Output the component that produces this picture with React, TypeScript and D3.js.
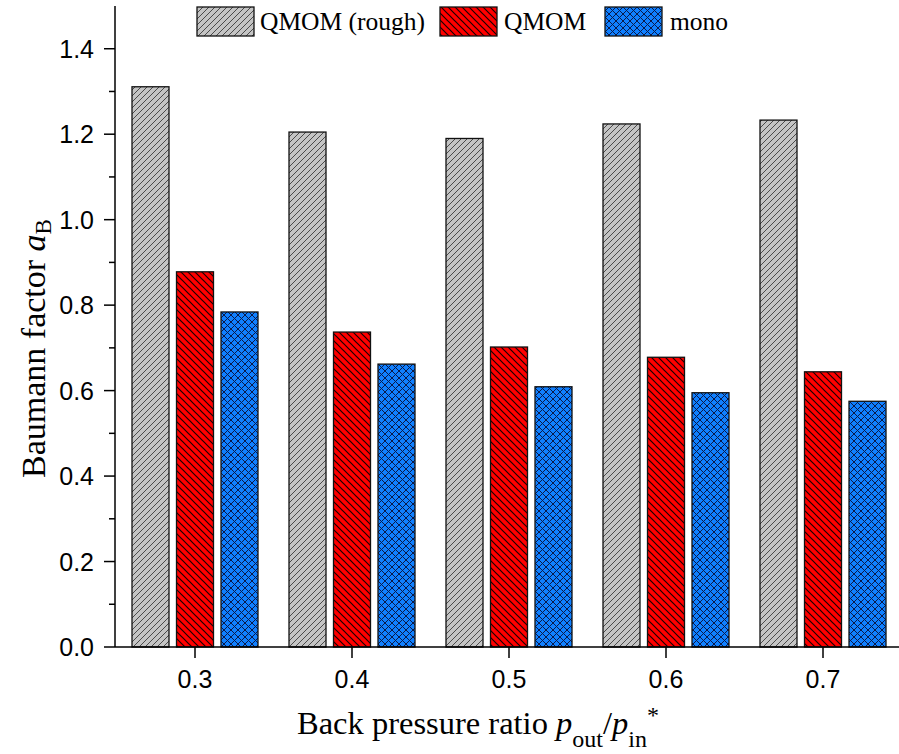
import React from "react";
import * as d3 from "d3";

const categories = ["0.3", "0.4", "0.5", "0.6", "0.7"];
const seriesNames = ["QMOM (rough)", "QMOM", "mono"];
const qmomRough = [1.311, 1.205, 1.19, 1.224, 1.233];
const qmom = [0.878, 0.737, 0.702, 0.678, 0.644];
const mono = [0.784, 0.662, 0.609, 0.595, 0.575];
const yMajorTicks = [0, 0.2, 0.4, 0.6, 0.8, 1.0, 1.2, 1.4];
const yMinorTicks = [0.1, 0.3, 0.5, 0.7, 0.9, 1.1, 1.3];

const W = 899;
const H = 754;
const plot = { left: 115, top: 6, bottom: 647 };

const x = d3.scaleLinear().domain([0.25, 0.75]).range([116.5, 901.5]);
const y = d3.scaleLinear().domain([0, 1.5]).range([plot.bottom, plot.top]);

const barW = 37;
const barStep = 44.5;
const series = [
  { name: seriesNames[0], values: qmomRough, fill: "url(#hatchGray)" },
  { name: seriesNames[1], values: qmom, fill: "url(#hatchRed)" },
  { name: seriesNames[2], values: mono, fill: "url(#hatchBlue)" },
];

// legend swatch / label x positions
const legendItems = [
  { sx: 197, tx: 260 },
  { sx: 440, tx: 504 },
  { sx: 605, tx: 670 },
];

const sansFont = "'Liberation Sans', Arial, sans-serif";
const serifFont = "'Liberation Serif', 'Times New Roman', serif";

export default function App() {
  return (
    <svg width={W} height={H} style={{ position: "absolute", left: 0, top: 0 }}>
      <defs>
        <pattern id="hatchGray" patternUnits="userSpaceOnUse" width="6" height="6">
          <rect width="6" height="6" fill="#c4c4c4" />
          <path d="M-1,1 L1,-1 M0,6 L6,0 M5,7 L7,5" stroke="#4a4a4a" strokeWidth="1" />
        </pattern>
        <pattern id="hatchRed" patternUnits="userSpaceOnUse" width="7" height="7">
          <rect width="7" height="7" fill="#ff0000" />
          <path d="M-1,6 L1,8 M0,0 L7,7 M6,-1 L8,1" stroke="#1a0000" strokeWidth="1.2" />
        </pattern>
        <pattern id="hatchBlue" patternUnits="userSpaceOnUse" width="7" height="7">
          <rect width="7" height="7" fill="#1080ff" />
          <path d="M-1,6 L1,8 M0,0 L7,7 M6,-1 L8,1 M-1,1 L1,-1 M0,7 L7,0 M6,8 L8,6" stroke="#0a1a4a" strokeWidth="1" />
        </pattern>
      </defs>
      <rect width={W} height={H} fill="#ffffff" />

      {/* bars */}
      {categories.map((c, i) => {
        const cx = x(+c);
        return series.map((s, j) => {
          const bx = cx + (j - 1) * barStep - barW / 2;
          const top = y(s.values[i]);
          return (
            <rect
              key={c + s.name}
              x={bx}
              y={top}
              width={barW}
              height={plot.bottom - top}
              fill={s.fill}
              stroke="#111"
              strokeWidth={1.3}
            />
          );
        });
      })}

      {/* y axis */}
      <line x1={plot.left} x2={plot.left} y1={plot.top} y2={plot.bottom} stroke="#000" strokeWidth={1.5} />
      {yMajorTicks.map((t) => (
        <g key={"ym" + t}>
          <line x1={plot.left - 11} x2={plot.left} y1={y(t)} y2={y(t)} stroke="#000" strokeWidth={1.5} />
          <text x={plot.left - 21} y={y(t) + 9} textAnchor="end" fontFamily={sansFont} fontSize={25}>
            {d3.format(".1f")(t)}
          </text>
        </g>
      ))}
      {yMinorTicks.map((t) => (
        <line key={"yn" + t} x1={plot.left - 6} x2={plot.left} y1={y(t)} y2={y(t)} stroke="#000" strokeWidth={1.5} />
      ))}

      {/* x axis */}
      <line x1={plot.left} x2={W} y1={plot.bottom} y2={plot.bottom} stroke="#000" strokeWidth={1.5} />
      {categories.map((c) => (
        <g key={"xt" + c}>
          <line x1={x(+c)} x2={x(+c)} y1={plot.bottom} y2={plot.bottom + 11} stroke="#000" strokeWidth={1.5} />
          <text x={x(+c)} y={688} textAnchor="middle" fontFamily={sansFont} fontSize={25}>
            {c}
          </text>
        </g>
      ))}

      {/* axis titles */}
      <text x={297} y={734} fontFamily={serifFont} fontSize={32.5}>
        Back pressure ratio <tspan fontStyle="italic">p</tspan>
        <tspan fontSize={24} dy={13}>out</tspan>
        <tspan dy={-13}>/</tspan>
        <tspan fontStyle="italic">p</tspan>
        <tspan fontSize={24} dy={13}>in</tspan>
        <tspan fontSize={24} dy={-24}>*</tspan>
      </text>
      <text
        transform={`translate(45,${478}) rotate(-90)`}
        fontFamily={serifFont}
        fontSize={34}
      >
        Baumann factor <tspan fontStyle="italic">a</tspan>
        <tspan fontSize={23} dy={6}>B</tspan>
      </text>

      {/* legend */}
      {legendItems.map((p, j) => (
        <g key={"lg" + j}>
          <rect x={p.sx} y={7} width={57} height={29} fill={series[j].fill} stroke="#111" strokeWidth={1.3} />
          <text x={p.tx} y={30} fontFamily={serifFont} fontSize={25.5}>
            {series[j].name}
          </text>
        </g>
      ))}
    </svg>
  );
}
